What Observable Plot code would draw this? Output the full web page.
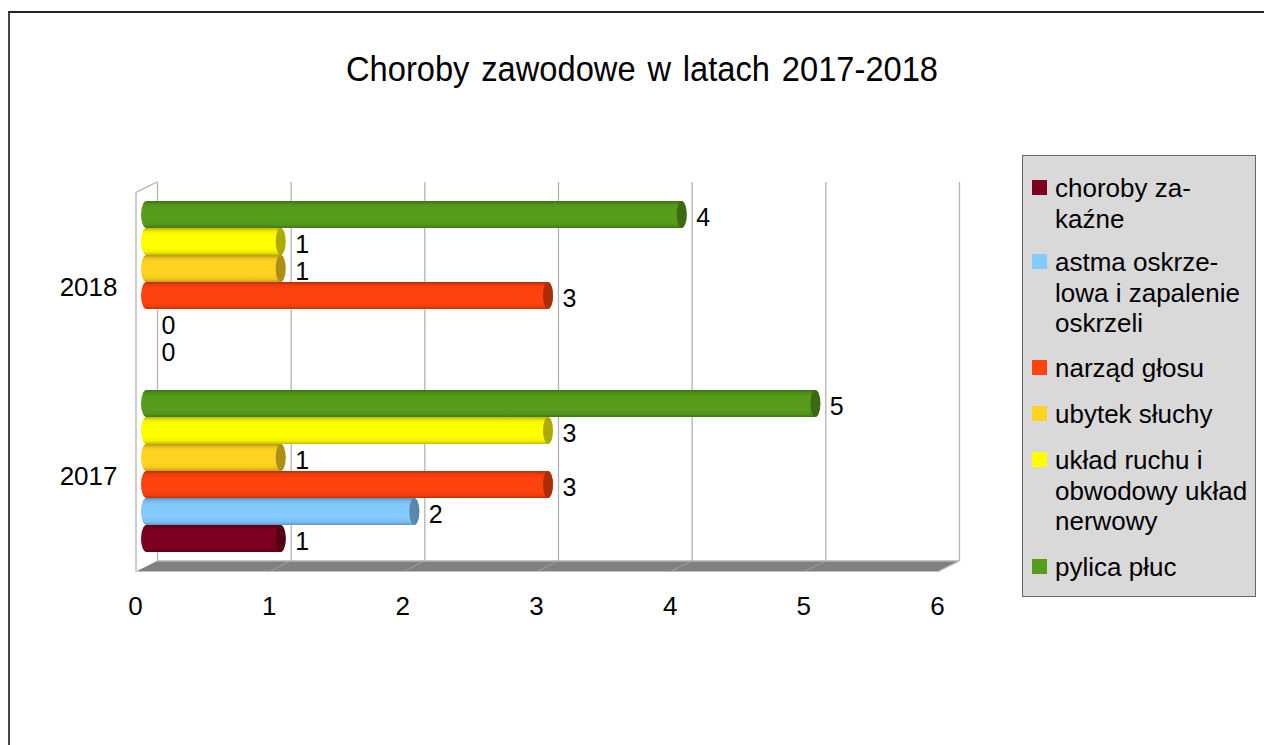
<!DOCTYPE html>
<html><head><meta charset="utf-8">
<script src="https://cdn.jsdelivr.net/npm/d3@7"></script>
<script src="https://cdn.jsdelivr.net/npm/@observablehq/plot@0.6"></script>
<style>
html,body{margin:0;padding:0;background:#fff;overflow:hidden;font-family:"Liberation Sans",sans-serif;color:#000}
#page{position:relative;width:1264px;height:745px;overflow:hidden}
#frame{position:absolute;left:8px;top:11px;width:1300px;height:800px;border-top:2px solid #222;border-left:2px solid #444;box-sizing:border-box}
#title{position:absolute;left:346px;top:48px;font-size:35.5px;line-height:42px;white-space:nowrap;word-spacing:3px;transform:scaleX(0.92);transform-origin:left center}
#chart{position:absolute;left:0;top:0}
#legend{position:absolute;left:1022px;top:155px;width:234px;height:442px;box-sizing:border-box;background:#d9d9d9;border:1px solid #666}
.sw{position:absolute;left:9px;width:15px;height:15px}
.lt{position:absolute;left:32px;font-size:26px;line-height:30px;white-space:nowrap}
</style></head><body>
<div id="page">
<div id="frame"></div>
<div id="chart"></div>
<div id="title">Choroby zawodowe w latach 2017-2018</div>
<div id="legend"></div>
</div>
<script>
const titleText = "Choroby zawodowe w latach 2017-2018";
const years = ["2018", "2017"];
const seriesTopDown = ["pylica płuc", "układ ruchu i obwodowy układ nerwowy", "ubytek słuchy", "narząd głosu", "astma oskrzelowa i zapalenie oskrzeli", "choroby zakaźne"];
const values2018 = [4, 1, 1, 3, 0, 0];
const values2017 = [5, 3, 1, 3, 2, 1];
const colors = {"pylica płuc":"#579d1c","układ ruchu i obwodowy układ nerwowy":"#ffff00","ubytek słuchy":"#ffd320","narząd głosu":"#ff420e","astma oskrzelowa i zapalenie oskrzeli":"#83caff","choroby zakaźne":"#7e0021"};
const legendEntries = [
 {s:"choroby zakaźne", lines:["choroby za-","kaźne"], top:173},
 {s:"astma oskrzelowa i zapalenie oskrzeli", lines:["astma oskrze-","lowa i zapalenie","oskrzeli"], top:247},
 {s:"narząd głosu", lines:["narząd głosu"], top:353},
 {s:"ubytek słuchy", lines:["ubytek słuchy"], top:399},
 {s:"układ ruchu i obwodowy układ nerwowy", lines:["układ ruchu i","obwodowy układ","nerwowy"], top:445},
 {s:"pylica płuc", lines:["pylica płuc"], top:552}
];
const xTicks = [0,1,2,3,4,5,6];

const rows = [];
years.forEach((yr, g) => {
  const vals = g === 0 ? values2018 : values2017;
  seriesTopDown.forEach((s, i) => rows.push({year: yr, series: s, value: vals[i], i, key: yr + "|" + s}));
  if (g === 0) rows.push({year: yr, series: null, value: null, key: "gap"});
});
const data = rows.filter(d => d.series);
const domain = rows.map(d => d.key);
const gradId = d => "url(#g" + d.i + ")";

function scenery(index, {x}, values, dim) {
  const g = d3.create("svg:g");
  const defs = g.append("defs");
  seriesTopDown.forEach((s, i) => {
    const c = d3.color(colors[s]);
    const lg = defs.append("linearGradient").attr("id", "g" + i).attr("x1", 0).attr("x2", 0).attr("y1", 0).attr("y2", 1);
    [[0, c.darker(0.9)], [0.14, c.darker(0.15)], [0.28, c], [0.72, c], [0.88, c.darker(0.15)], [1, c.darker(0.8)]]
      .forEach(([o, col]) => lg.append("stop").attr("offset", o).attr("stop-color", col.formatHex()));
  });
  const off = 21, rise = 10.5;
  const top = dim.marginTop, bot = dim.height - dim.marginBottom;
  const x0 = x(0), x6 = x(6);
  g.append("path").attr("d", `M${x0},${bot + rise}L${x0 + off},${bot}L${x6 + off},${bot}L${x6},${bot + rise}Z`).attr("fill", "#808080");
  g.append("path").attr("d", `M${x0 + off},${bot}H${x6 + off}L${x6},${bot + rise}`).attr("fill", "none").attr("stroke", "#b3b3b3").attr("stroke-width", 1.3);
  g.append("path").attr("d", `M${x0},${bot + rise}V${top + rise}L${x0 + off},${top}`).attr("fill", "none").attr("stroke", "#b3b3b3").attr("stroke-width", 1.3);
  xTicks.slice(1, -1).forEach(t => g.append("path").attr("d", `M${x(t) + off},${bot}L${x(t)},${bot + rise}`).attr("stroke", "#a6a6a6").attr("fill", "none").attr("stroke-width", 0.8));
  return g.node();
}

const shown = data.filter(d => d.value > 0);
const chart = Plot.plot({
  width: 1264, height: 745,
  marginLeft: 136, marginRight: 326, marginTop: 182, marginBottom: 184,
  style: {fontFamily: '"Liberation Sans", sans-serif', fontSize: "26px", color: "#000", background: "transparent"},
  x: {domain: [0, 6], range: [136, 938], label: null},
  y: {type: "band", domain, range: [201, 552.5], padding: 0, label: null},
  marks: [
    Plot.ruleX(xTicks, {x: d => d, dx: 21, stroke: "#b3b3b3", strokeWidth: 1.3, strokeOpacity: 1}),
    scenery,
    Plot.barX(shown, {x1: 0, x2: "value", y: "key", dx: 10, insetLeft: -5, insetRight: -6, rx: 5.5, ry: 13.5,
      fill: {value: gradId, scale: null}}),
    Plot.barX(shown, {x1: "value", x2: "value", y: "key", dx: 11, insetLeft: -5, insetRight: -5, rx: 5, ry: 13.5,
      fill: {value: d => d3.color(colors[d.series]).darker(1.1).formatHex(), scale: null}}),
    Plot.text(data, {x: "value", y: "key", text: d => String(d.value), dx: 25, dy: 3, textAnchor: "start", fill: "#000", fontSize: 25}),
    Plot.axisX({ticks: xTicks, anchor: "bottom", tickSize: 0, tickPadding: 35, tickFormat: d => String(d), fontSize: 26, dx: -1, labelAnchor: "center", label: null, fill: "#000"}),
    Plot.axisY({ticks: years.map(y => y + "|ubytek słuchy"), tickFormat: d => d.slice(0, 4), anchor: "left", tickSize: 0, tickPadding: 19, dy: 18.5, fontSize: 26, label: null, fill: "#000"})
  ]
});
document.getElementById("chart").appendChild(chart);

document.getElementById("title").textContent = titleText;
const legend = document.getElementById("legend");
const boxTop = 156;
legendEntries.forEach(e => {
  const sw = document.createElement("div");
  sw.className = "sw"; sw.style.background = colors[e.s];
  sw.style.top = (e.top + 7 - boxTop) + "px";
  legend.appendChild(sw);
  e.lines.forEach((t, i) => {
    const l = document.createElement("div");
    l.className = "lt"; l.textContent = t;
    l.style.top = (e.top + i * 30.5 - boxTop) + "px";
    legend.appendChild(l);
  });
});
</script>
</body></html>
